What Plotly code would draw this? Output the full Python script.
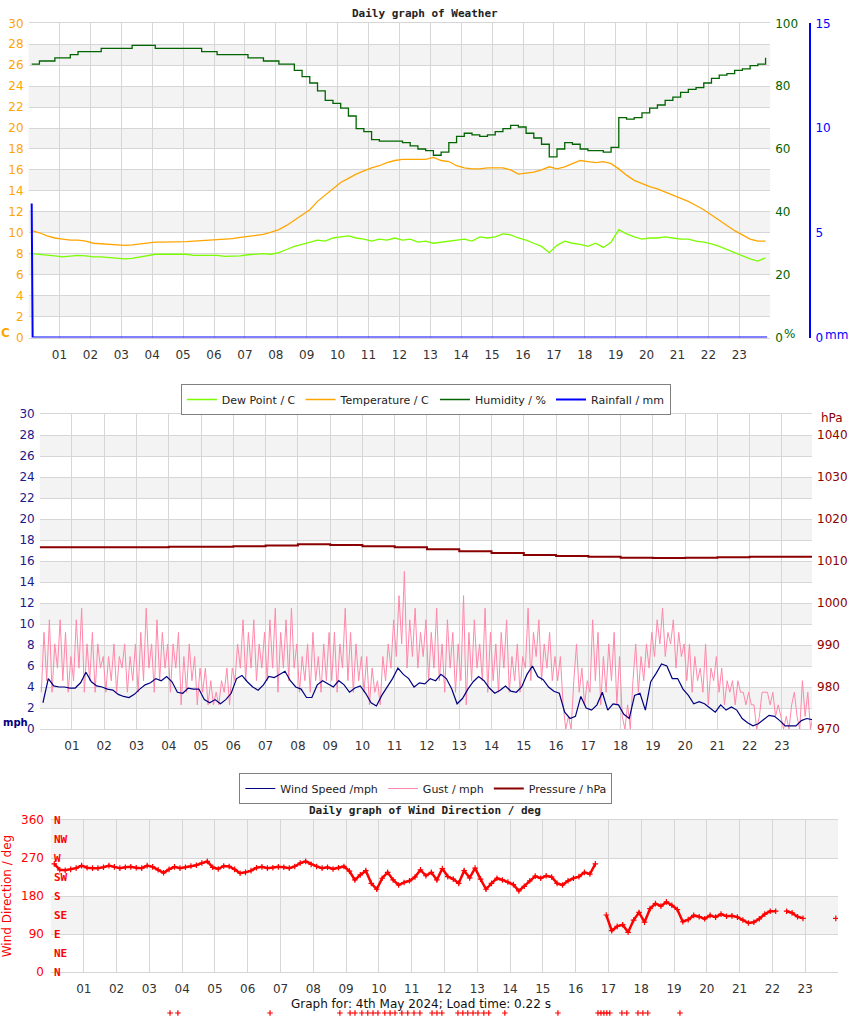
import numpy as np
import plotly.graph_objects as go

# ---------------- data ----------------
HOUR_TICKS = list(range(1, 24))
HOUR_LABELS = [f"{h:02d}" for h in HOUR_TICKS]

# top chart: 15-minute samples starting 00:06
TOP_HOURS = np.round(0.1 + 0.25 * np.arange(96), 3)
TEMPERATURE = [10.2, 10.0, 9.7, 9.5, 9.4, 9.3, 9.3, 9.2, 9.0, 8.95,
               8.9, 8.8, 8.8, 8.85, 8.95, 9.05, 9.1, 9.1, 9.1, 9.15,
               9.15, 9.2, 9.25, 9.3, 9.3, 9.35, 9.45, 9.55, 9.65, 9.75,
               9.85, 10.05, 10.3, 10.7, 11.2, 11.7, 12.2, 13.0, 13.6, 14.2,
               14.8, 15.2, 15.6, 15.9, 16.2, 16.4, 16.7, 16.9, 17.0, 17.0,
               17.0, 17.0, 17.2, 16.9, 16.8, 16.4, 16.2, 16.1, 16.1, 16.2,
               16.2, 16.2, 16.0, 15.6, 15.7, 15.8, 16.0, 16.3, 16.1, 16.3,
               16.6, 16.9, 16.8, 16.7, 16.8, 16.6, 16.1, 15.5, 15.0, 14.7,
               14.4, 14.2, 13.9, 13.6, 13.3, 13.0, 12.6, 12.2, 11.7, 11.2,
               10.7, 10.2, 9.8, 9.4, 9.2, 9.2]
DEW_POINT = [8.0, 7.95, 7.9, 7.8, 7.7, 7.75, 7.85, 7.8, 7.7, 7.7,
             7.65, 7.55, 7.5, 7.55, 7.7, 7.85, 7.95, 7.95, 7.95, 7.95,
             7.95, 7.85, 7.85, 7.85, 7.85, 7.75, 7.75, 7.8, 7.9, 7.95,
             8.0, 7.95, 8.1, 8.4, 8.7, 8.9, 9.1, 9.3, 9.2, 9.5,
             9.6, 9.7, 9.5, 9.4, 9.2, 9.4, 9.3, 9.5, 9.3, 9.4,
             9.1, 9.2, 9.0, 9.1, 9.2, 9.3, 9.4, 9.2, 9.6, 9.5,
             9.6, 9.9, 9.8, 9.5, 9.3, 9.0, 8.7, 8.1, 8.8, 9.2,
             9.0, 8.9, 8.7, 9.0, 8.6, 9.1, 10.3, 9.9, 9.6, 9.4,
             9.5, 9.5, 9.6, 9.5, 9.4, 9.4, 9.2, 9.1, 8.95, 8.7,
             8.4, 8.1, 7.8, 7.5, 7.3, 7.6]
HUMIDITY = [87, 88, 88, 89, 89, 90, 91, 91, 91, 92,
            92, 92, 92, 93, 93, 93, 92, 92, 92, 92,
            92, 92, 91, 91, 90, 90, 90, 90, 89, 89,
            88, 88, 87, 87, 85, 83, 81, 78.5, 75.5, 74.5,
            73, 70.5, 66.5, 65.5, 63, 62.5, 62.5, 62.5, 62, 61,
            60, 59.5, 58, 59, 62, 64, 65, 64.5, 64, 64.5,
            65.5, 66.5, 67.5, 67, 65, 63.5, 61.5, 57.5, 60, 62,
            61.5, 60, 59.5, 59.5, 59, 60.5, 70, 69.5, 70, 71.5,
            73, 74, 75.5, 76.5, 78, 79, 79.5, 81, 82.5, 83.5,
            84, 85, 85.5, 86.5, 87, 89]
RAIN_HOURS = [0.1, 0.13, 23.9]
RAINFALL = [6.4, 0.0, 0.0]

# middle chart: wind speed every 10 minutes, gusts every 5 minutes
WIND_HOURS = np.round(0.1 + np.arange(144) / 6, 3)
WIND_SPEED = [2.5, 4.8, 4.1, 4.0, 4.0, 3.9, 3.9, 4.4, 5.4, 4.5,
              4.1, 4.0, 3.8, 3.7, 3.3, 3.1, 3.0, 3.3, 3.8, 4.2,
              4.4, 4.8, 4.6, 5.0, 4.5, 3.5, 3.4, 3.9, 3.8, 3.8,
              2.8, 2.5, 2.8, 2.4, 2.8, 3.4, 4.8, 5.1, 4.5, 4.0,
              3.7, 4.2, 5.0, 4.9, 5.2, 5.5, 4.6, 4.0, 3.8, 3.0,
              3.0, 4.2, 4.6, 4.3, 4.0, 4.6, 4.2, 3.5, 3.9, 4.1,
              3.4, 2.5, 2.2, 3.2, 4.0, 4.8, 5.8, 5.2, 4.8, 4.0,
              4.4, 4.3, 4.8, 4.6, 5.2, 4.8, 3.8, 2.4, 2.9, 3.8,
              4.5, 5.0, 4.6, 3.9, 3.4, 3.7, 4.1, 3.6, 3.5, 4.0,
              5.2, 6.0, 5.0, 4.7, 4.0, 3.6, 3.4, 1.6, 1.0, 1.2,
              3.1, 2.0, 1.8, 2.3, 3.5, 1.8, 2.4, 2.3, 1.4, 1.0,
              3.2, 3.4, 1.8, 4.5, 5.3, 6.2, 6.0, 4.8, 4.8, 3.8,
              3.2, 2.4, 2.6, 2.4, 2.0, 1.6, 2.3, 1.8, 2.1, 1.8,
              1.0, 0.6, 0.3, 0.5, 0.9, 1.3, 1.2, 0.8, 0.3, 0.3,
              0.3, 0.8, 1.0, 0.9]
GUST_HOURS = np.round(0.05 + np.arange(288) / 12, 3)
GUST = [3.5, 9.2, 4.6, 10.4, 3.5, 8.1, 5.8, 10.4, 4.6, 9.2, 3.5, 6.9,
        4.6, 10.4, 5.8, 11.5, 3.5, 8.1, 4.6, 9.2, 3.5, 8.1, 5.8, 6.9,
        3.5, 6.9, 4.6, 8.1, 3.5, 6.9, 5.8, 8.1, 3.5, 6.9, 4.6, 8.1,
        3.5, 9.2, 4.6, 11.5, 5.8, 8.1, 3.5, 10.4, 4.6, 9.2, 5.8, 8.1,
        3.5, 8.1, 5.8, 9.2, 2.3, 6.9, 3.5, 8.1, 4.6, 6.9, 2.3, 5.8,
        3.5, 5.8, 2.3, 4.6, 2.3, 3.5, 2.3, 4.6, 3.5, 5.8, 2.3, 5.8,
        4.6, 8.1, 5.8, 10.4, 4.6, 9.2, 5.8, 10.4, 4.6, 8.1, 5.8, 9.2,
        4.6, 10.4, 5.8, 11.5, 3.5, 9.2, 5.8, 10.4, 4.6, 11.5, 5.8, 8.1,
        3.5, 6.9, 4.6, 8.1, 3.5, 9.2, 4.6, 6.9, 3.5, 8.1, 4.6, 9.2,
        4.6, 9.2, 3.5, 8.1, 5.8, 11.5, 4.6, 9.2, 3.5, 8.1, 4.6, 6.9,
        3.5, 6.9, 2.3, 5.8, 3.5, 4.6, 2.3, 6.9, 4.6, 8.1, 5.8, 10.4,
        6.9, 12.7, 8.1, 15.0, 5.8, 10.4, 6.9, 11.5, 5.8, 9.2, 6.9, 10.4,
        4.6, 9.2, 5.8, 11.5, 4.6, 8.1, 3.5, 10.4, 5.8, 9.2, 3.5, 8.1,
        4.6, 12.7, 2.3, 9.2, 4.6, 10.4, 5.8, 8.1, 4.6, 11.5, 3.5, 9.2,
        4.6, 8.1, 3.5, 9.2, 5.8, 10.4, 3.5, 6.9, 4.6, 8.1, 3.5, 6.9,
        5.8, 11.5, 4.6, 9.2, 6.9, 10.4, 4.6, 8.1, 5.8, 9.2, 4.6, 6.9,
        4.6, 6.9, 2.3, 0.0, 1.2, 0.0, 4.6, 8.1, 3.5, 5.8, 2.3, 4.6,
        3.5, 10.4, 4.6, 9.2, 2.3, 6.9, 3.5, 8.1, 4.6, 9.2, 2.3, 6.9,
        1.2, 0.0, 2.3, 0.0, 4.6, 8.1, 3.5, 6.9, 4.6, 8.1, 5.8, 9.2,
        6.9, 10.4, 8.1, 11.5, 6.9, 9.2, 8.1, 10.4, 5.8, 9.2, 6.9, 8.1,
        4.6, 8.1, 3.5, 6.9, 4.6, 5.8, 3.5, 8.1, 2.3, 5.8, 4.6, 6.9,
        3.5, 5.8, 2.3, 4.6, 3.5, 4.6, 2.3, 4.6, 3.5, 3.5, 2.3, 3.5,
        2.3, 2.3, 0.0, 1.2, 3.5, 3.5, 3.5, 2.3, 3.5, 1.2, 2.3, 1.2,
        0.0, 1.2, 0.0, 2.3, 3.5, 1.2, 0.0, 4.6, 1.2, 3.5, 0.0, 1.2]
PRESSURE_HOURS = list(range(24)) + [23.93]
PRESSURE = [1013.3, 1013.3, 1013.3, 1013.3, 1013.4, 1013.4, 1013.5, 1013.7,
            1014.0, 1013.8, 1013.5, 1013.3, 1012.8, 1012.3, 1011.9, 1011.4,
            1011.2, 1011.0, 1010.8, 1010.7, 1010.8, 1010.9, 1011.0, 1011.0,
            1010.9]

# bottom chart: wind direction, 10-minute samples (None = no reading)
WIND_DIR = [256, 242, 241, 243, 246, 252, 247, 246, 246, 248,
            252, 249, 246, 248, 249, 247, 246, 252, 249, 242,
            235, 243, 249, 246, 248, 251, 253, 258, 262, 248,
            244, 251, 250, 243, 234, 236, 240, 247, 249, 246,
            247, 249, 248, 246, 250, 258, 262, 255, 250, 246,
            248, 244, 247, 250, 239, 218, 230, 240, 210, 196,
            222, 236, 218, 206, 212, 216, 225, 242, 228, 236,
            218, 245, 226, 220, 210, 240, 223, 246, 220, 196,
            210, 222, 218, 213, 207, 192, 203, 216, 227, 222,
            228, 225, 210, 206, 216, 222, 226, 236, 232, 256,
            None, 135, 98, 108, 112, 94, 123, 141, 118, 150,
            162, 156, 166, 158, 148, 119, 124, 134, 131, 126,
            134, 130, 137, 132, 133, 130, 123, 116, 118, 126,
            137, 144, 144, None, 144, 140, 131, 127, None, None,
            None, None, None, 127]
CALM_HOURS = [3.63, 3.87, 6.68, 8.81, 9.12, 9.27, 9.48, 9.66, 9.82, 9.97,
              10.18, 10.34, 10.49, 10.70, 10.88, 11.07, 11.25, 11.62, 11.77,
              11.92, 12.41, 12.56, 12.71, 12.87, 13.02, 13.20, 13.35, 13.84,
              15.46, 16.68, 16.77, 16.86, 16.95, 17.04, 17.41, 17.56, 17.90,
              18.05, 18.20, 19.18]
CALM_LEVEL = [0] * len(CALM_HOURS)

COMPASS = ["N", "NE", "E", "SE", "S", "SW", "W", "NW", "N"]
COMPASS_DEG = [0, 45, 90, 135, 180, 225, 270, 315, 360]

# ---------------- figure ----------------
W, H = 850, 1017
FONT = "DejaVu Sans"
GRID = "#d6d6d6"
BAND = "#f3f3f3"


def px(x):
    return x / W


def py(y):
    return 1 - y / H


fig = go.Figure()

# top chart traces
fig.add_trace(go.Scatter(x=TOP_HOURS, y=DEW_POINT, name="Dew Point / C", mode="lines",
                         line=dict(color="#7CFC00", width=1.3), xaxis="x", yaxis="y", legend="legend"))
fig.add_trace(go.Scatter(x=TOP_HOURS, y=TEMPERATURE, name="Temperature / C", mode="lines",
                         line=dict(color="#FFA500", width=1.3), xaxis="x", yaxis="y", legend="legend"))
fig.add_trace(go.Scatter(x=TOP_HOURS, y=HUMIDITY, name="Humidity / %", mode="lines",
                         line=dict(color="#006400", width=1.3, shape="hv"), xaxis="x", yaxis="y2",
                         legend="legend"))
fig.add_trace(go.Scatter(x=RAIN_HOURS, y=RAINFALL, name="Rainfall / mm", mode="lines",
                         line=dict(color="#0000FF", width=2), xaxis="x", yaxis="y3", legend="legend",
                         cliponaxis=False))

# middle chart traces (gust drawn first so speed sits on top)
fig.add_trace(go.Scatter(x=GUST_HOURS, y=GUST, name="Gust / mph", mode="lines", legendrank=2,
                         line=dict(color="#FF88AA", width=1), xaxis="x2", yaxis="y4", legend="legend2"))
fig.add_trace(go.Scatter(x=WIND_HOURS, y=WIND_SPEED, name="Wind Speed /mph", mode="lines", legendrank=1,
                         line=dict(color="#000080", width=1.2), xaxis="x2", yaxis="y4", legend="legend2"))
fig.add_trace(go.Scatter(x=PRESSURE_HOURS, y=PRESSURE, name="Pressure / hPa", mode="lines", legendrank=3,
                         line=dict(color="#8B0000", width=2, shape="hv"), xaxis="x2", yaxis="y5",
                         legend="legend2"))

# bottom chart
fig.add_trace(go.Scatter(x=WIND_HOURS, y=WIND_DIR, mode="lines+markers", showlegend=False,
                         line=dict(color="#FF0000", width=2.5),
                         marker=dict(symbol="cross-thin", size=4, color="#FF0000",
                                     line=dict(color="#FF0000", width=1.2)),
                         xaxis="x3", yaxis="y6"))
fig.add_trace(go.Scatter(x=CALM_HOURS, y=CALM_LEVEL, mode="markers", showlegend=False,
                         marker=dict(symbol="cross-thin", size=4, color="#FF0000",
                                     line=dict(color="#FF0000", width=1.2)),
                         xaxis="x4", yaxis="y7", cliponaxis=False))

shapes = []
for lo in range(2, 30, 4):
    shapes.append(dict(type="rect", xref="x domain", yref="y", x0=0, x1=1, y0=lo, y1=lo + 2,
                       fillcolor=BAND, line_width=0, layer="below"))
    shapes.append(dict(type="rect", xref="x2 domain", yref="y4", x0=0, x1=1, y0=lo, y1=lo + 2,
                       fillcolor=BAND, line_width=0, layer="below"))
for lo in (90, 270):
    shapes.append(dict(type="rect", xref="x3 domain", yref="y6", x0=0, x1=1, y0=lo, y1=lo + 90,
                       fillcolor=BAND, line_width=0, layer="below"))

xcommon = dict(range=[0, 24], tickvals=HOUR_TICKS, ticktext=HOUR_LABELS, showgrid=True,
               gridcolor=GRID, gridwidth=1, zeroline=False, ticks="", showline=True,
               linecolor=GRID, mirror=True, tickfont=dict(family=FONT, size=12, color="#333333"),
               ticklabelstandoff=6, fixedrange=True, layer="below traces")

top_dom = [py(337.5), py(23.3)]
mid_dom = [py(729), py(414)]
bot_dom = [py(972), py(820)]

LEG = dict(orientation="h", x=0.501, xanchor="center", yanchor="top",
           bgcolor="white", bordercolor="#808080", borderwidth=1,
           font=dict(family=FONT, size=11, color="#222222"), itemwidth=30, tracegroupgap=0)

fig.update_layout(
    width=W, height=H, margin=dict(l=0, r=0, t=0, b=0, pad=0, autoexpand=False),
    paper_bgcolor="white", plot_bgcolor="white",
    font=dict(family=FONT, size=12),
    shapes=shapes,
    xaxis=dict(xcommon, domain=[px(28.6), px(770.2)], anchor="y"),
    yaxis=dict(domain=top_dom, range=[0, 30], dtick=2, showgrid=True, gridcolor=GRID,
               zeroline=False, ticks="", tickfont=dict(color="#FFA500", size=12), anchor="x",
               ticklabelstandoff=4, layer="below traces"),
    yaxis2=dict(overlaying="y", side="right", range=[0, 100], dtick=20, showgrid=False,
                zeroline=False, ticks="", tickfont=dict(color="#006400", size=12), anchor="x",
                ticklabelstandoff=4),
    yaxis3=dict(overlaying="y", side="right", anchor="free", position=px(810), range=[0, 15],
                dtick=5, showgrid=False, zeroline=False, showline=True, linecolor="#0000FF",
                linewidth=2, ticks="", tickfont=dict(color="#0000FF", size=12), ticklabelstandoff=2),
    xaxis2=dict(xcommon, domain=[px(39.7), px(812)], anchor="y4", range=[0, 23.93]),
    yaxis4=dict(domain=mid_dom, range=[0, 30], dtick=2, showgrid=True, gridcolor=GRID,
                zeroline=False, ticks="", tickfont=dict(color="#1a1a8c", size=12), anchor="x2",
                ticklabelstandoff=4, layer="below traces"),
    yaxis5=dict(overlaying="y4", side="right", range=[970, 1045], tickvals=list(range(970, 1041, 10)),
                showgrid=False, zeroline=False, ticks="", tickfont=dict(color="#8B0000", size=12),
                anchor="x2", ticklabelstandoff=4),
    xaxis3=dict(xcommon, domain=[px(51), px(838)], anchor="y6"),
    yaxis6=dict(domain=bot_dom, range=[0, 360], tickvals=[0, 90, 180, 270, 360], showgrid=True,
                gridcolor=GRID, zeroline=False, ticks="", tickfont=dict(color="#FF0000", size=12),
                anchor="x3", ticklabelstandoff=6, layer="below traces",
                title=dict(text="Wind Direction / deg", font=dict(color="#FF0000", size=12), standoff=8)),
    xaxis4=dict(domain=[px(51), px(838)], range=[0, 24], visible=False, anchor="y7"),
    yaxis7=dict(domain=[py(1016), py(1010)], range=[-1, 1], visible=False, anchor="x4"),
    legend=dict(LEG, y=py(384)),
    legend2=dict(LEG, y=py(773)),
    showlegend=True,
)

ann = []
TITLE_FONT = dict(family="DejaVu Sans Mono", size=11, color="#222222")


def label(text, x, y, font, xanchor="center", yref="paper"):
    ann.append(dict(text=text, x=x, y=y, xref="paper", yref=yref, showarrow=False,
                    xanchor=xanchor, yanchor="middle", font=font))


label("<b>Daily graph of Weather</b>", 0.5, py(13), TITLE_FONT)
label("<b>Daily graph of Wind Direction / deg</b>", 0.5, py(810), TITLE_FONT)
label("Graph for: 4th May 2024; Load time: 0.22 s", px(421), py(1004),
      dict(family=FONT, size=12, color="#111111"))
label("<b>C</b>", px(5), py(333), dict(family=FONT, size=12, color="#FFA500"))
label("%", px(789), py(334), dict(family=FONT, size=12, color="#006400"))
label("mm", px(836), py(335), dict(family=FONT, size=12, color="#0000FF"))
label("<b>mph</b>", px(1), py(722), dict(family=FONT, size=10, color="#000080"), xanchor="left")
label("hPa", px(832), py(418), dict(family=FONT, size=12, color="#8B0000"))
for lab, deg in zip(COMPASS, COMPASS_DEG):
    label(f"<b>{lab}</b>", px(52), deg, dict(family="DejaVu Sans Mono", size=11, color="#FF0000"),
          xanchor="left", yref="y6")
fig.update_layout(annotations=ann)

fig.write_html("out.html")
